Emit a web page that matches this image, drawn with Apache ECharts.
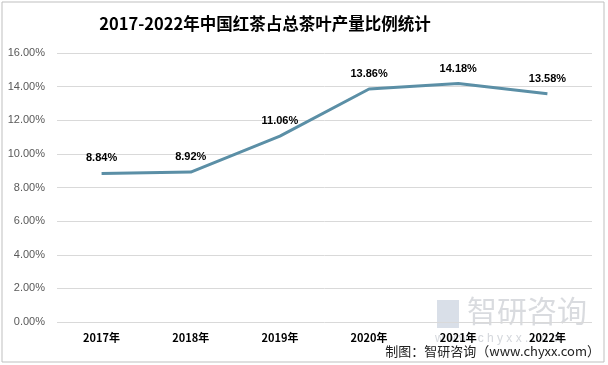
<!DOCTYPE html>
<html><head><meta charset="utf-8">
<script src="https://cdn.jsdelivr.net/npm/echarts@6/dist/echarts.min.js"></script>
<style>html,body{margin:0;padding:0;background:#fff}#c{width:608px;height:365px}</style>
</head><body><div id="c"></div>
<script>
const categories = ['2017年','2018年','2019年','2020年','2021年','2022年'];
const shareValues = [8.84, 8.92, 11.06, 13.86, 14.18, 13.58];
const titleText = '2017-2022年中国红茶占总茶叶产量比例统计';
const sourceText = '制图：智研咨询（www.chyxx.com）';

const chart = echarts.init(document.getElementById('c'), null, {renderer:'canvas'});
chart.setOption({
  backgroundColor:'#fff',
  animation:false,
  title:{text:titleText,left:260,textAlign:'center',top:10,
    textStyle:{fontSize:16.5,fontWeight:'bold',color:'#000',fontFamily:'"Noto Sans CJK SC", sans-serif'}},
  grid:{left:57,right:16,top:53,bottom:43},
  xAxis:{type:'category',data:categories,boundaryGap:true,
    axisLine:{show:false},axisTick:{show:false},
    axisLabel:{margin:10,fontSize:11,fontWeight:'bold',color:'#000',fontFamily:'"Noto Sans CJK SC", sans-serif'}},
  yAxis:{type:'value',min:0,max:16,interval:2,
    axisLine:{show:false},axisTick:{show:false},
    splitLine:{lineStyle:{color:'#d9d9d9',width:1}},
    axisLabel:{margin:12,fontSize:11,color:'#595959',fontFamily:'"Liberation Sans", sans-serif',
      formatter:v=>v.toFixed(2)+'%'}},
  series:[{type:'line',data:shareValues,symbol:'circle',symbolSize:1,showSymbol:true,
    itemStyle:{color:'rgba(0,0,0,0)'},
    lineStyle:{color:'#5b8fa6',width:3},
    label:{show:true,position:'top',distance:9,fontSize:11,fontWeight:'bold',color:'#000',
      fontFamily:'"Liberation Sans", sans-serif',formatter:p=>p.value.toFixed(2)+'%'}}],
  graphic:[
    {type:'rect',shape:{x:2,y:2,width:602,height:360},style:{fill:'none',stroke:'#bfbfbf',lineWidth:1},z:-1},
    {type:'rect',shape:{x:437,y:300,width:22,height:28},style:{fill:'rgba(170,185,205,0.45)'},z:-1},
    {type:'text',left:467,top:296,style:{text:'智研咨询',fontSize:30,fill:'rgba(170,175,185,0.45)',fontFamily:'"Noto Sans CJK SC", sans-serif'},z:-1},
    {type:'text',left:435,top:333,style:{text:'w w w . c h y x x . c o m',fontSize:12,fill:'rgba(170,175,185,0.5)',fontFamily:'"Liberation Sans", sans-serif'},z:-1},
    {type:'text',right:8,top:345,style:{text:sourceText,fontSize:13,fill:'#222',fontFamily:'"Noto Sans CJK SC", sans-serif'}}
  ]
});
</script></body></html>
